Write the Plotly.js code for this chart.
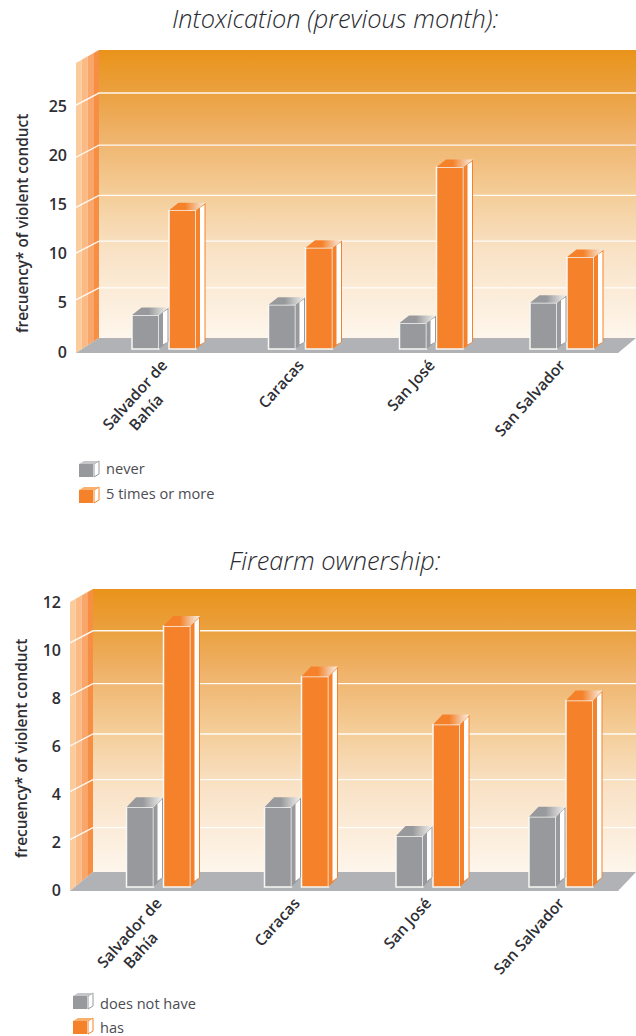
<!DOCTYPE html>
<html>
<head>
<meta charset="utf-8">
<script src="https://cdn.plot.ly/plotly-3.0.1.min.js"></script>
<style>html,body{margin:0;padding:0;background:#fff}#chart{width:636px;height:1036px}</style>
</head>
<body>
<div id="chart"></div>
<script>
// Violent-conduct frequency by city
const cityLabels = ['Salvador de<br>Bahía\u00a0\u00a0\u00a0\u00a0\u00a0\u00a0\u00a0', 'Caracas', 'San José', 'San Salvador'];

const intoxicationNever = [3.75, 4.8, 2.95, 5.0];
const intoxicationFivePlus = [14.4, 10.6, 18.8, 9.65];
const firearmNone = [3.45, 3.45, 2.25, 3.05];
const firearmHas = [11.0, 8.9, 6.9, 7.9];

const intoxicationTicks = [0, 5, 10, 15, 20, 25];
const firearmTicks = [0, 2, 4, 6, 8, 10, 12];
const intoxicationGrid = [5.3, 10.05, 14.7, 19.8, 25.1];
const firearmGrid = [2.1, 4.1, 6.0, 8.1, 10.3];

const PAGE_W = 636, PAGE_H = 1036;
const GRAY = '#98999c', ORANGE = '#f5822a', INK = '#2e2e34', SOFT = '#4c4c52';
const FONT = '"Open Sans", sans-serif';

const wallScale = [[0, '#fef6ec'], [0.3, '#f9e2c6'], [0.5, '#f4cd98'], [0.7, '#efb36b'], [0.85, '#eba140'], [1, '#e9931a']];
const sideBands = ['#fccb9c', '#fbb983', '#f9a66a', '#f68e44'];

const panels = [
  {
    x: 'x', yBack: 'y', yFront: 'y2', plotLeft: 76, plotTop: 50, zeroPx: 352, pxPerUnit: 9.84,
    backX: 99, floorRight: 618, floorDepth: 14, gridDepth: 12, wallDrop: 13, barBase: 0.3,
    barDepthX: 9.5, barDepthY: 7.5, centres: [164, 300.5, 431.5, 562], spread: 18.5,
    low: intoxicationNever, high: intoxicationFivePlus, grid: intoxicationGrid, ticks: intoxicationTicks
  },
  {
    x: 'x2', yBack: 'y3', yFront: 'y4', plotLeft: 70, plotTop: 589, zeroPx: 890, pxPerUnit: 24,
    backX: 93, floorRight: 618, floorDepth: 18, gridDepth: 12, wallDrop: 13, barBase: 0.125,
    barDepthX: 9.5, barDepthY: 10, centres: [158.5, 296.5, 428, 561], spread: 18.5,
    low: firearmNone, high: firearmHas, grid: firearmGrid, ticks: firearmTicks
  }
];

const traces = [];

function polygon(p, yref, xs, ys, style) {
  traces.push(Object.assign({
    type: 'scatter', mode: 'none', fill: 'toself', x: xs, y: ys,
    xaxis: p.x, yaxis: yref, hoverinfo: 'skip', showlegend: false
  }, style));
}

function addRoom(p) {
  const u = px => px / p.pxPerUnit;
  const wallTop = (p.zeroPx - p.plotTop) / p.pxPerUnit;
  const floorBack = u(p.floorDepth);
  const bottom = -1 / p.pxPerUnit;

  // back wall with its vertical wash of colour
  polygon(p, p.yBack, [p.backX, 636, 636, p.backX], [floorBack, floorBack, wallTop, wallTop], {
    fillcolor: '#f4cd98',
    fillgradient: { type: 'vertical', colorscale: wallScale }
  });

  // side wall, four slanted bands running from front to back
  const bandW = (p.backX - p.plotLeft) / sideBands.length;
  const slope = (floorBack - bottom) / (p.backX - p.plotLeft);
  sideBands.forEach((c, i) => {
    const x0 = p.plotLeft + i * bandW, x1 = x0 + bandW;
    const rise = x => (x - p.plotLeft) * (u(p.wallDrop) / (p.backX - p.plotLeft));
    polygon(p, p.yBack, [x0, x1, x1, x0],
      [bottom + (x0 - p.plotLeft) * slope, bottom + (x1 - p.plotLeft) * slope,
       wallTop - u(p.wallDrop) + rise(x1), wallTop - u(p.wallDrop) + rise(x0)],
      { fillcolor: c });
  });

  // floor
  polygon(p, p.yBack, [p.plotLeft, p.floorRight, 636, p.backX], [bottom, bottom, floorBack, floorBack],
    { fillcolor: '#b1b2b5' });

  // white grid lines folding round the corner of the room
  const gx = [], gy = [];
  p.grid.forEach(v => {
    gx.push(p.plotLeft, p.backX, 636, null);
    gy.push(v, v + u(p.gridDepth), v + u(p.gridDepth), null);
  });
  traces.push({
    type: 'scatter', mode: 'lines', x: gx, y: gy, xaxis: p.x, yaxis: p.yBack,
    line: { color: 'rgba(255,255,255,0.92)', width: 1.4 }, hoverinfo: 'skip', showlegend: false
  });
}

function addSeries(p, values, colour, offset) {
  const barW = 27, dx = p.barDepthX, dy = p.barDepthY;
  const u = px => px / p.pxPerUnit;
  const centres = p.centres.map(c => c + offset);

  traces.push({
    type: 'bar', x: centres, y: values.map(v => v - p.barBase),
    base: values.map(() => p.barBase), width: barW,
    xaxis: p.x, yaxis: p.yFront, showlegend: false, hoverinfo: 'skip',
    marker: { color: colour, line: { color: '#f7f7f5', width: 1.5 } }
  });

  values.forEach((v, i) => {
    const l = centres[i] - barW / 2, r = centres[i] + barW / 2, b = p.barBase;
    // right-hand face
    polygon(p, p.yFront, [r, r + dx, r + dx, r], [b, b + u(dy), v + u(dy), v], { fillcolor: colour });
    polygon(p, p.yFront, [r + 4, r + dx - 1, r + dx - 1, r + 4],
      [b + u(dy * 0.6), b + u(dy - 0.5), v + u(dy - 2), v + u(dy * 0.35)], { fillcolor: '#ffffff' });
    // top face, fading out toward the right
    polygon(p, p.yFront, [l, l + dx, r + dx, r], [v, v + u(dy), v + u(dy), v], {
      fillcolor: colour,
      fillgradient: { type: 'horizontal', colorscale: [[0, colour], [0.45, colour], [1, '#f6f4f0']] }
    });
  });
}

panels.forEach(p => {
  addRoom(p);
  addSeries(p, p.low, GRAY, -p.spread);
  addSeries(p, p.high, ORANGE, p.spread);
});

function xAxis(p) {
  return {
    domain: [p.plotLeft / PAGE_W, 1], range: [p.plotLeft, PAGE_W], anchor: p.yBack,
    tickmode: 'array', tickvals: p.centres.map(c => c - 1.5), ticktext: cityLabels, tickangle: -48,
    showgrid: false, zeroline: false, showline: false, ticks: '', ticklabelstandoff: -1,
    tickfont: { family: FONT, size: 15.5, color: INK, weight: 600 }, fixedrange: true
  };
}
function yAxis(p, showLabels, overlay) {
  const top = (p.zeroPx - p.plotTop) / p.pxPerUnit;
  const bottom = -1 / p.pxPerUnit;
  const a = {
    domain: [1 - (p.zeroPx + 1) / PAGE_H, 1 - p.plotTop / PAGE_H], range: [bottom, top], anchor: p.x,
    showgrid: false, zeroline: false, showline: false, ticks: '', fixedrange: true,
    showticklabels: showLabels, tickmode: 'array', tickvals: p.ticks, ticktext: p.ticks.map(String),
    tickfont: { family: FONT, size: 16, color: INK, weight: 600 }, ticklabelstandoff: 8
  };
  if (overlay) a.overlaying = overlay;
  return a;
}

const text = (t, xPx, yPx, font, extra) => Object.assign({
  text: t, xref: 'paper', yref: 'paper', x: xPx / PAGE_W, y: 1 - yPx / PAGE_H,
  showarrow: false, font: font, xanchor: 'center', yanchor: 'middle'
}, extra || {});

const titleFont = { family: FONT, size: 25.4, color: '#2a2a30', style: 'italic', weight: 300 };
const axisFont = { family: FONT, size: 15.4, color: INK, weight: 600 };
const legendFont = { family: FONT, size: 14.6, color: SOFT };

const annotations = [
  text('Intoxication (previous month):', 335, 18, titleFont),
  text('Firearm ownership:', 335, 560, titleFont),
  text('frecuency* of violent conduct', 22, 224, axisFont, { textangle: -90 }),
  text('frecuency* of violent conduct', 21, 749, axisFont, { textangle: -90 }),
  text('never', 104, 468, legendFont, { xanchor: 'left' }),
  text('5 times or more', 104, 493, legendFont, { xanchor: 'left' }),
  text('does not have', 98, 1003, legendFont, { xanchor: 'left' }),
  text('has', 98, 1027, legendFont, { xanchor: 'left' })
];

// small cubes beside the legend entries, placed in page pixels
function cube(x, y, colour, topTint) {
  const X = v => v / PAGE_W, Y = v => 1 - v / PAGE_H;
  const path = pts => 'M' + pts.map(q => X(q[0]) + ',' + Y(q[1])).join('L') + 'Z';
  const s = (d, fill, line) => ({
    type: 'path', xref: 'paper', yref: 'paper', path: d, fillcolor: fill,
    line: { color: line || fill, width: line ? 1 : 0 }, layer: 'above'
  });
  return [
    s(path([[x + 15, y + 3], [x + 20, y], [x + 20, y + 13], [x + 15, y + 16]]), '#ffffff', colour),
    s(path([[x, y + 3], [x + 5, y], [x + 20, y], [x + 15, y + 3]]), topTint),
    s(path([[x, y + 3], [x + 14, y + 3], [x + 14, y + 16], [x, y + 16]]), colour)
  ];
}

const shapes = [].concat(
  cube(79, 461, GRAY, '#c6c6c8'),
  cube(79, 487, ORANGE, '#f9b06c'),
  cube(73, 993, GRAY, '#c6c6c8'),
  cube(73, 1018, ORANGE, '#f9b06c')
);

const layout = {
  width: PAGE_W, height: PAGE_H, margin: { l: 0, r: 0, t: 0, b: 0 },
  paper_bgcolor: '#ffffff', plot_bgcolor: 'rgba(0,0,0,0)', showlegend: false, barmode: 'overlay',
  xaxis: xAxis(panels[0]),
  xaxis2: xAxis(panels[1]),
  yaxis: yAxis(panels[0], true),
  yaxis2: yAxis(panels[0], false, 'y'),
  yaxis3: yAxis(panels[1], true),
  yaxis4: yAxis(panels[1], false, 'y3'),
  annotations: annotations, shapes: shapes
};

Plotly.newPlot('chart', traces, layout, { displayModeBar: false, staticPlot: true });
</script>
</body>
</html>
